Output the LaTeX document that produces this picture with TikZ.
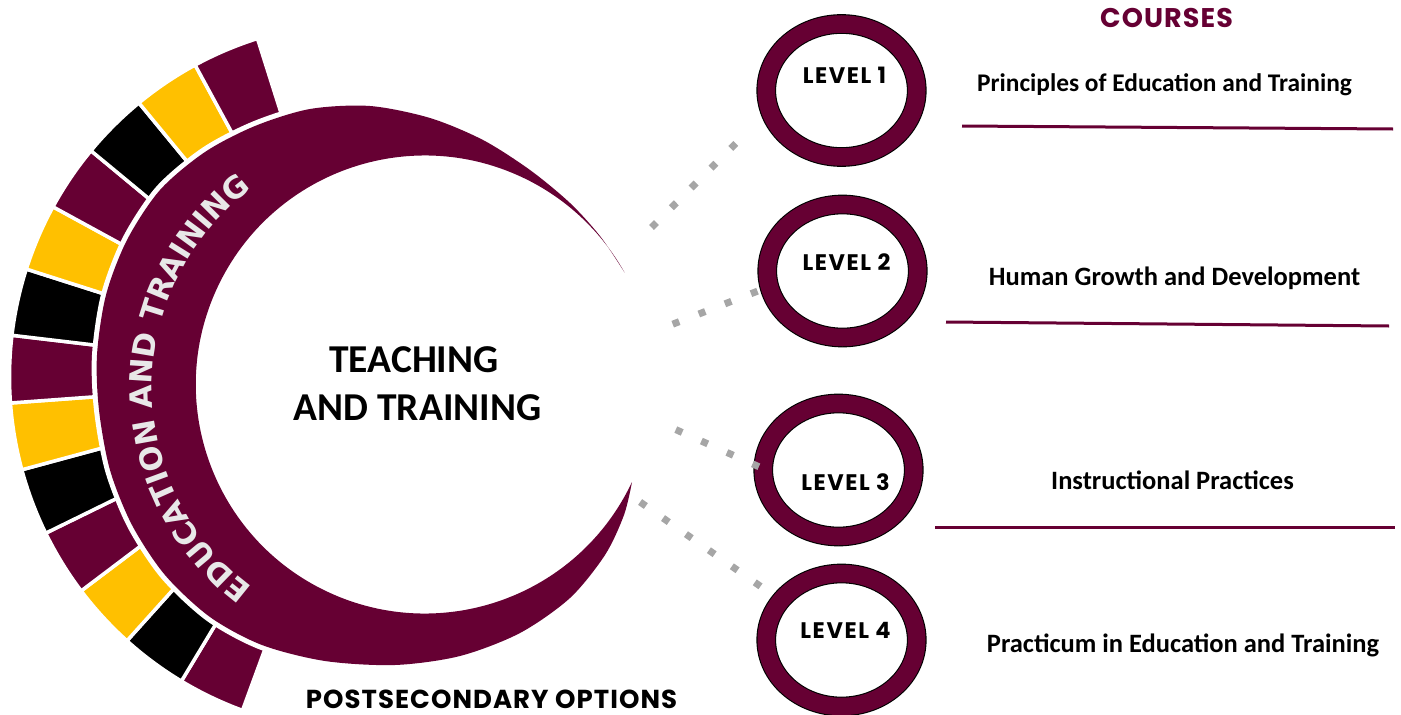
\documentclass[tikz,border=0pt]{standalone}
\usepackage{fontspec}
\setmainfont{Carlito}
\newfontfamily\gothicfont{Poppins}[LetterSpace=4]
\newfontfamily\levelfont{Poppins}[LetterSpace=7]
\newfontfamily\bandfont{DejaVu Sans}
\usepackage{tikz}
\usetikzlibrary{shapes.geometric,decorations.text,calc}
\definecolor{maroon}{RGB}{102,0,51}
\definecolor{gold}{RGB}{255,192,0}
\definecolor{dotgray}{RGB}{166,166,166}
\definecolor{bandgray}{RGB}{232,232,232}

\begin{document}
\begin{tikzpicture}[x=1pt, y=-1pt,
  block/.style={draw=white, line width=3.5pt},
  levelring/.style={ellipse, draw=black, line width=1.1pt, double=maroon, double distance=17.5pt, fill=white, minimum width=150.5pt, minimum height=133pt, inner sep=0pt, outer sep=0pt},
  leveltext/.style={anchor=base, font=\levelfont\bfseries\fontsize{22.5}{24}\selectfont},
  course/.style={anchor=base, font=\bfseries\fontsize{26.5}{30}\selectfont},
  headtext/.style={anchor=base, font=\gothicfont\bfseries\fontsize{27}{30}\selectfont},
  dotline/.style={dotgray, line width=7pt, dash pattern=on 7pt off 21pt},
  courseline/.style={maroon, line width=3pt}]
  \useasboundingbox (0,0) rectangle (1401,715);

  % ring of coloured blocks
  \coordinate (ringc) at (364.5,377);
  \foreach \c [count=\i from 0] in {maroon,black,gold,maroon,black,gold,maroon,black,gold,maroon,black,gold,maroon}{
    \pgfmathsetmacro\a{110.1+\i*10.95}
    \pgfmathsetmacro\b{\a+10.95}
    \filldraw[block, fill=\c] ($(ringc)+(\a:355)$) arc[start angle=\a, end angle=\b, radius=355]
      -- ($(ringc)+(\b:230)$) arc[start angle=\b, end angle=\a, radius=230] -- cycle;
  }

  % crescent
  \draw[white, line width=10pt] plot[smooth] coordinates {(623,270) (600,236) (570,203) (530,170) (483,140) (430,118) (370,106) (310,109) (255,126) (205,152) (160,190) (127,240) (106,295) (97,355) (99,410) (110,470) (132,525) (165,575) (210,617) (262,645) (325,661) (395,665) (460,656) (520,633) (570,598) (605,555) (624,515) (632,482)};
  \fill[maroon] plot[smooth] coordinates {(623,270) (600,236) (570,203) (530,170) (483,140) (430,118) (370,106) (310,109) (255,126) (205,152) (160,190) (127,240) (106,295) (97,355) (99,410) (110,470) (132,525) (165,575) (210,617) (262,645) (325,661) (395,665) (460,656) (520,633) (570,598) (605,555) (624,515) (632,482)}
    arc[start angle=25.2, end angle=330.7, radius=229] -- cycle;
  \path[decorate, decoration={text along path, text color=bandgray, text align=center,
      text={|\bandfont\bfseries\fontsize{30.5}{32}\selectfont|EDUCATION AND TRAINING}}]
    ($(400,388)+(118:248)$) arc[start angle=118, end angle=242, radius=248];

  \node[anchor=base, font=\bfseries\fontsize{39.5}{44}\selectfont] (teach) at (414,372) {TEACHING};
  \node[anchor=base, font=\bfseries\fontsize{39.5}{44}\selectfont] (train) at (417.5,420) {AND TRAINING};
  \node[headtext, font=\gothicfont\bfseries\fontsize{26}{30}\selectfont] (post) at (491.5,708) {POSTSECONDARY OPTIONS};

  % levels
  \node[levelring] (lv1) at (841.5,90.5) {};
  \node[levelring] (lv2) at (842.5,271) {};
  \node[levelring] (lv3) at (838.5,470) {};
  \node[levelring] (lv4) at (841.5,640) {};
  \node[leveltext] (l1) at (844.5,83) {LEVEL 1};
  \node[leveltext] (l2) at (846.5,270) {LEVEL 2};
  \node[leveltext] (l3) at (845.5,490) {LEVEL 3};
  \node[leveltext] (l4) at (845.5,638) {LEVEL 4};

  \coordinate (s1) at (651.5,227.5);
  \coordinate (s2) at (672.7,324.2);
  \coordinate (s3) at (675.8,429.6);
  \coordinate (s4) at (640.1,502);
  \draw[dotline, shorten >=38pt] (s1) -- (lv1.195.8);
  \draw[dotline, shorten >=5pt] (s2) -- (lv2.192.9);
  \draw[dotline] (s3) -- (lv3.179);
  \draw[dotline, shorten >=17pt] (s4) -- (lv4.147.7);

  % courses
  \node[headtext, text=maroon] (courses) at (1166.5,27) {COURSES};
  \node[course, font=\bfseries\fontsize{25.4}{30}\selectfont] (c1) at (1164.5,91) {Principles of Education and Training};
  \node[course] (c2) at (1174.5,285) {Human Growth and Development};
  \node[course] (c3) at (1172.5,489) {Instructional Practices};
  \node[course] (c4) at (1183,652) {Practicum in Education and Training};
  \draw[courseline] (962,126) -- (1393,129);
  \draw[courseline] (946,322) -- (1389,326);
  \draw[courseline] (935,527) -- (1395,527);
\end{tikzpicture}
\end{document}
